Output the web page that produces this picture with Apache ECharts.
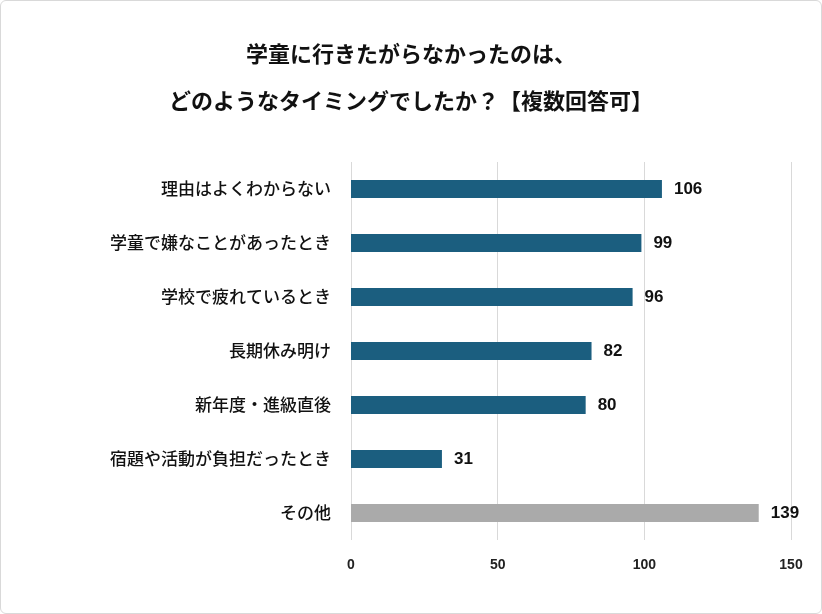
<!DOCTYPE html>
<html><head><meta charset="utf-8">
<script src="https://cdn.jsdelivr.net/npm/echarts@6/dist/echarts.min.js"></script>
<style>html,body{margin:0;padding:0;background:#fff}
#c{width:820px;height:612px;border:1px solid #d9d9d9;border-radius:6px}</style>
</head><body><div id="c"></div>
<script>
var categories = ['理由はよくわからない','学童で嫌なことがあったとき','学校で疲れているとき','長期休み明け','新年度・進級直後','宿題や活動が負担だったとき','その他'];
var values = [106, 99, 96, 82, 80, 31, 139];
var barColors = ['#1b5e7f','#1b5e7f','#1b5e7f','#1b5e7f','#1b5e7f','#1b5e7f','#aaaaaa'];
var font = '"Noto Sans CJK JP", sans-serif';
var chart = echarts.init(document.getElementById('c'));
chart.setOption({
  title: {
    text: '学童に行きたがらなかったのは、\nどのようなタイミングでしたか？【複数回答可】',
    left: 'center', top: 24,
    textStyle: {fontFamily: font, fontSize: 22, fontWeight: 'bold', color: '#111', lineHeight: 47}
  },
  grid: {left: 350, right: 30, top: 161, bottom: 73},
  xAxis: {
    type: 'value', min: 0, max: 150, interval: 50,
    axisLine: {show: false}, axisTick: {show: false},
    axisLabel: {color: '#222', fontSize: 14, fontWeight: 'bold', fontFamily: 'Liberation Sans', margin: 18},
    splitLine: {lineStyle: {color: '#d9d9d9'}}
  },
  yAxis: {
    type: 'category', data: categories, inverse: true,
    axisLine: {show: false}, axisTick: {show: false},
    axisLabel: {color: '#111', fontSize: 17, fontWeight: 500, fontFamily: font, margin: 20}
  },
  series: [{
    type: 'bar', barWidth: 18,
    data: values.map(function (v, i) { return {value: v, itemStyle: {color: barColors[i]}}; }),
    label: {show: true, position: 'right', distance: 12, color: '#111', fontSize: 17, fontWeight: 'bold', fontFamily: 'Liberation Sans'}
  }]
});
</script></body></html>
